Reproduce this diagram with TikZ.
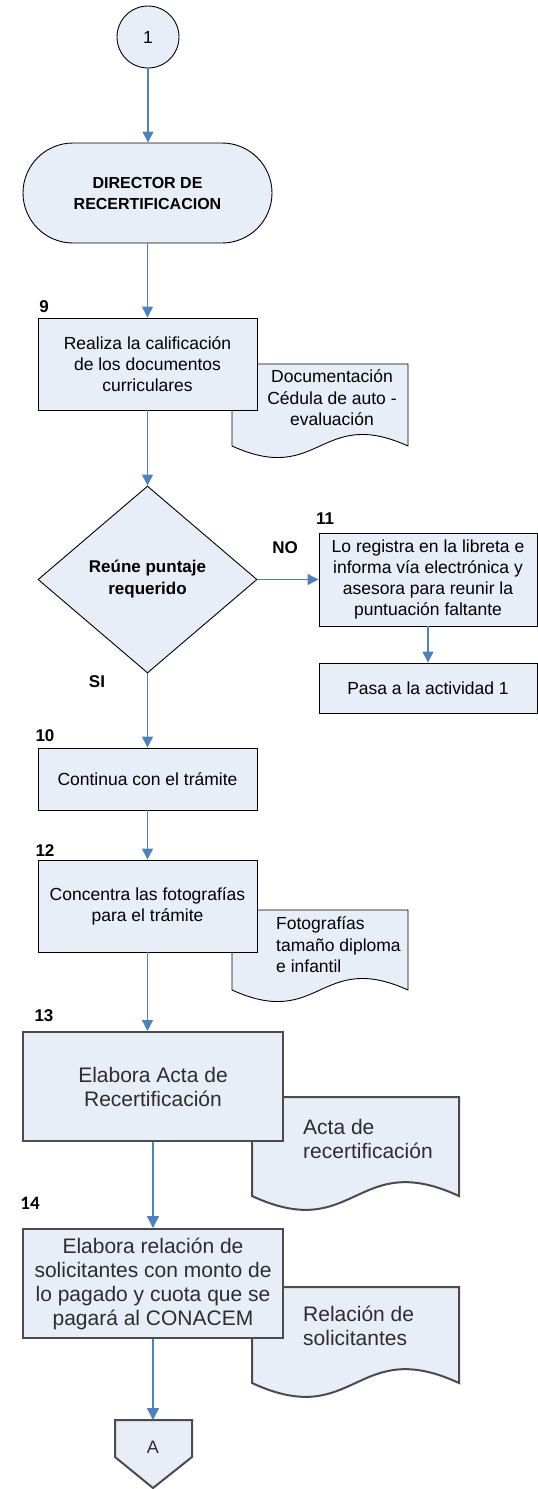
\documentclass[tikz,border=0pt]{standalone}
\usepackage{fontspec}
\setmainfont{Liberation Sans}
\newfontfamily\carlito{Carlito}
\usetikzlibrary{arrows.meta,shapes.geometric}
\definecolor{boxfill}{RGB}{232,238,247}
\definecolor{arr}{RGB}{79,129,189}
\definecolor{lowline}{RGB}{75,75,75}
\definecolor{lowtext}{RGB}{45,45,45}
\begin{document}
\begin{tikzpicture}[x=1pt,y=-1pt,
  upbox/.style={draw=black, line width=0.9pt, fill=boxfill, inner sep=0pt, align=center,
    font=\fontsize{17.5}{21}\selectfont},
  lowbox/.style={draw=lowline, line width=2pt, fill=boxfill, inner sep=0pt, align=center,
    text=lowtext, font=\fontsize{21}{24}\selectfont},
  updoc/.style={draw=black, line width=0.9pt, fill=boxfill},
  lowdoc/.style={draw=lowline, line width=2pt, fill=boxfill},
  doctext/.style={inner sep=0pt, font=\fontsize{17.5}{21.5}\selectfont},
  lowdoctext/.style={inner sep=0pt, text=lowtext, font=\fontsize{21}{24.5}\selectfont},
  lbl/.style={inner sep=0pt, font=\bfseries\fontsize{17}{20}\selectfont},
  flow/.style={draw=arr, line width=1.2pt, -{Triangle[width=11pt,length=11pt]}},
  lowflow/.style={draw=arr, line width=1.6pt, -{Triangle[width=12pt,length=12pt]}}
]
\useasboundingbox (0,0) rectangle (538,1489);

% documents (behind the boxes)
\draw[updoc] (232,446) -- (232,364) -- (408,364) -- (408,446)
  .. controls (320,406) and (320,486) .. (232,446) -- cycle;
\draw[updoc] (232,990) -- (232,910) -- (408,910) -- (408,990)
  .. controls (320,950) and (320,1030) .. (232,990) -- cycle;
\draw[lowdoc] (252,1196) -- (252,1097) -- (459,1097) -- (459,1196)
  .. controls (355.5,1148) and (355.5,1244) .. (252,1196) -- cycle;
\draw[lowdoc] (252,1383) -- (252,1287) -- (459,1287) -- (459,1383)
  .. controls (355.5,1335) and (355.5,1431) .. (252,1383) -- cycle;

\node[doctext, align=center] (d1) at (332,398) {Documentación\\Cédula de auto -\\evaluación};
\node[doctext, align=left, anchor=west] (d2) at (276,945) {Fotografías\\tamaño diploma\\e infantil};
\node[lowdoctext, align=left, anchor=west] (d3) at (303,1139) {Acta de\\recertificación};
\node[lowdoctext, align=left, anchor=west] (d4) at (303,1326) {Relación de\\solicitantes};

% start connector
\node[circle, draw=black, line width=0.9pt, fill=boxfill, minimum size=62pt, inner sep=0pt,
  font=\fontsize{17.5}{21}\selectfont] (c1) at (148,37) {1};

% terminal
\node[draw=black, line width=0.9pt, fill=boxfill, rounded corners=50pt,
  minimum width=249pt, minimum height=100pt, inner sep=0pt, align=center,
  font=\bfseries\fontsize{16}{21}\selectfont] (dir) at (147.5,193) {DIRECTOR DE\\RECERTIFICACION};

% boxes
\node[upbox, minimum width=219pt, minimum height=92pt] (b9) at (147.5,364)
  {Realiza la calificación\\de los documentos\\curriculares};
\node[diamond, draw=black, line width=0.9pt, fill=boxfill, aspect=1.17,
  minimum width=219pt, minimum height=187pt, inner sep=0pt, align=center,
  font=\bfseries\fontsize{17}{22}\selectfont] (dec) at (147.5,579.5) {Reúne puntaje\\requerido};
\node[upbox, minimum width=218pt, minimum height=93pt] (b11) at (428,579.5)
  {Lo registra en la libreta e\\informa vía electrónica y\\asesora para reunir la\\puntuación faltante};
\node[upbox, minimum width=218pt, minimum height=50pt] (pasa) at (428,688)
  {Pasa a la actividad 1};
\node[upbox, minimum width=219pt, minimum height=62pt] (b10) at (147.5,779)
  {Continua con el trámite};
\node[upbox, minimum width=219pt, minimum height=92pt] (b12) at (147.5,906)
  {Concentra las fotografías\\para el trámite};
\node[lowbox, minimum width=260pt, minimum height=109pt] (b13) at (153,1086.5)
  {Elabora Acta de\\Recertificación};
\node[lowbox, minimum width=260pt, minimum height=109pt] (b14) at (153,1283.5)
  {Elabora relación de\\solicitantes con monto de\\lo pagado y cuota que se\\pagará al CONACEM};

% off-page connector
\draw[draw=lowline, line width=2pt, fill=boxfill] (115,1420) -- (192,1420) -- (192,1457)
  -- (153,1488) -- (115,1457) -- cycle;
\node[inner sep=0pt, text=lowtext, font=\fontsize{18}{21}\selectfont] (offA) at (153,1447) {A};
\coordinate (Atop) at (153,1420);

% labels
\node[lbl] (l9) at (44,307) {9};
\node[lbl] (l11) at (325,519) {11};
\node[lbl] (lno) at (285,548) {NO};
\node[lbl] (lsi) at (97,682) {SI};
\node[lbl] (l10) at (45,736) {10};
\node[lbl] (l12) at (45,851) {12};
\node[lbl] (l13) at (44,1016) {13};
\node[inner sep=0pt, font=\carlito\bfseries\fontsize{19}{22}\selectfont] (l14) at (30,1203) {14};

% connectors
\draw[flow] (c1.south) -- (c1.south |- dir.north);
\draw[flow] (dir.south) -- (dir.south |- b9.north);
\draw[flow] (b9.south) -- (dec.north);
\draw[flow] (dec.east) -- (b11.west);
\draw[flow] (b11.south) -- (pasa.north);
\draw[flow] (dec.south) -- (b10.north);
\draw[flow] (b10.south) -- (b12.north);
\draw[flow] (b12.south) -- (b12.south |- b13.north);
\draw[lowflow] (b13.south) -- (b14.north);
\draw[lowflow] (b14.south) -- (Atop);
\end{tikzpicture}
\end{document}
